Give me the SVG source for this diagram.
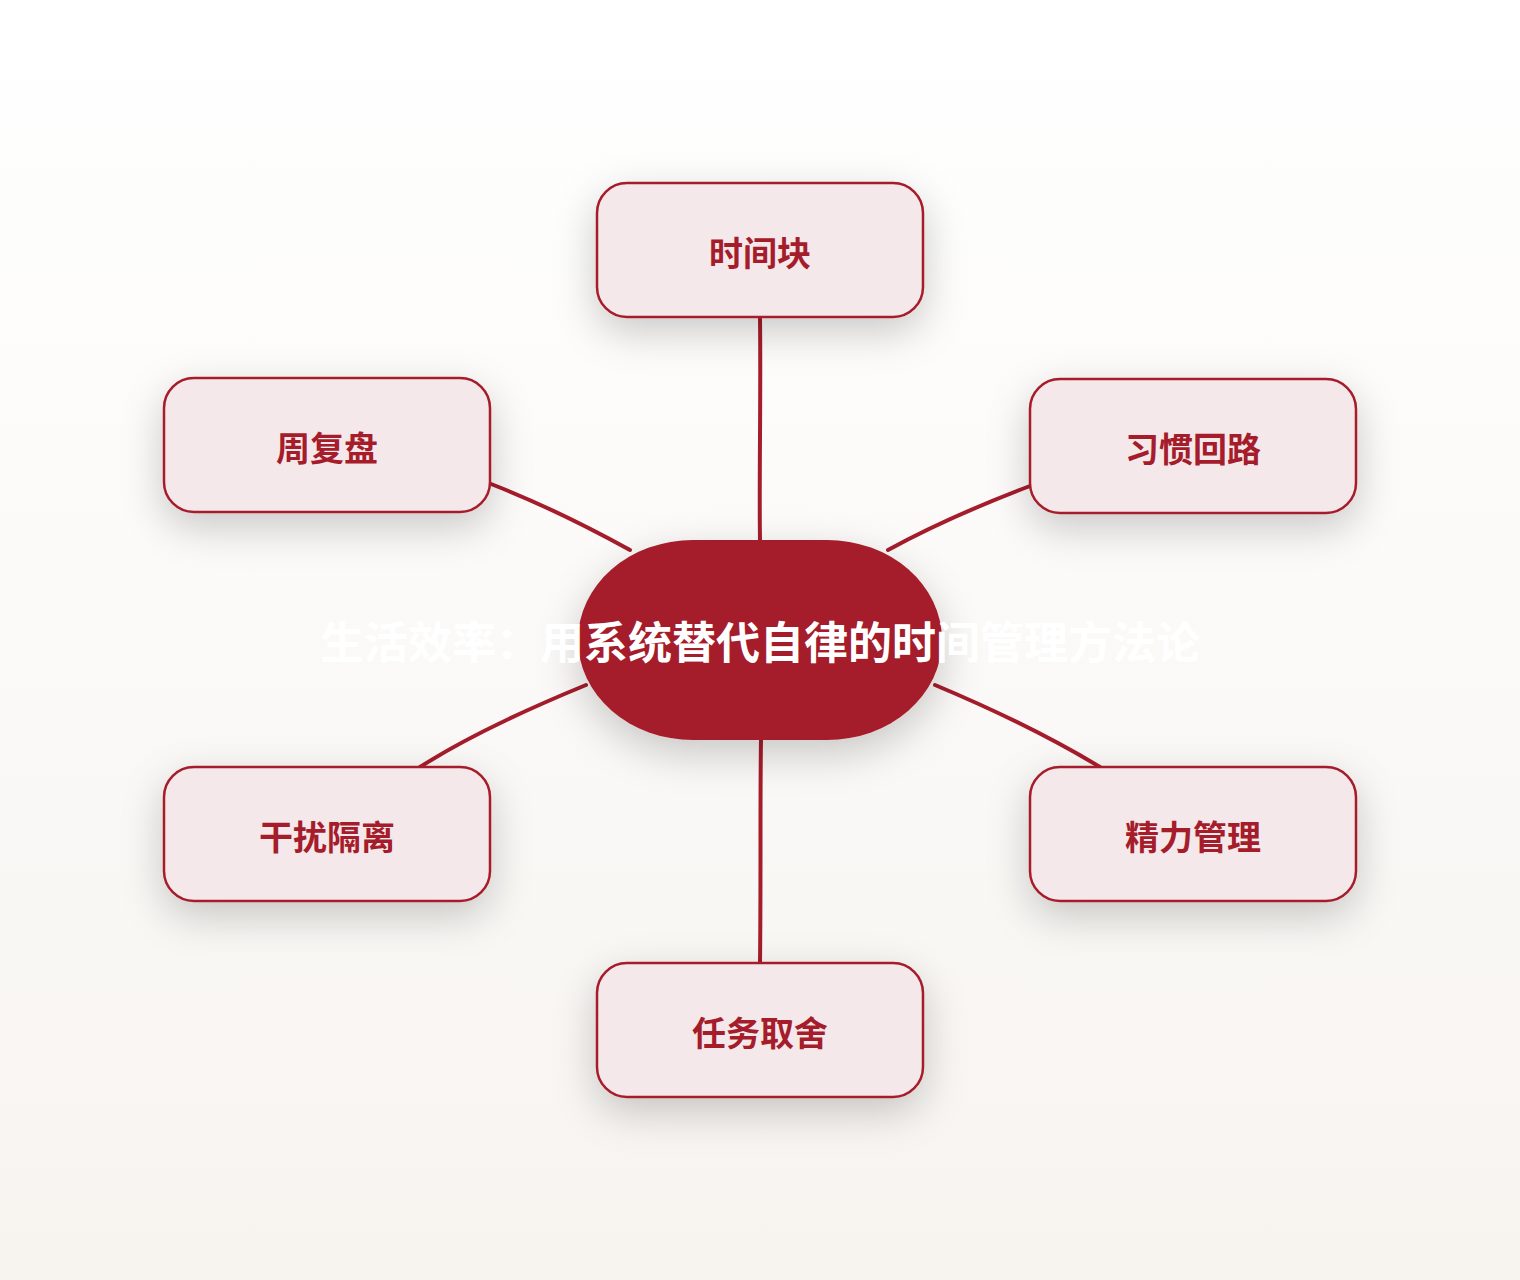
<svg xmlns="http://www.w3.org/2000/svg" width="1520" height="1280" viewBox="0 0 1520 1280">
<defs>
<linearGradient id="bg" x1="0" y1="0" x2="0" y2="1">
<stop offset="0" stop-color="#FFFFFF"/>
<stop offset="1" stop-color="#F7F4F0"/>
</linearGradient>
<filter id="sh" x="-40%" y="-50%" width="180%" height="210%">
<feDropShadow dx="0" dy="14" stdDeviation="20" flood-color="#000" flood-opacity="0.2"/>
</filter>
<style>
.node rect{fill:#F4E8EB;stroke:#A51C2B;stroke-width:2.5;filter:url(#sh)}
.node text{font-family:"Noto Sans CJK SC","Noto Sans",sans-serif;font-weight:bold;font-size:34px;fill:#A51C2B;text-anchor:middle}
.edge{fill:none;stroke:#A51C2B;stroke-width:4;stroke-linecap:round}
.center rect{fill:#A51C2B;filter:url(#sh)}
.center text{font-family:"Noto Sans CJK SC","Noto Sans",sans-serif;font-weight:bold;font-size:44px;fill:#FFFFFF;text-anchor:middle}
</style>
</defs>
<rect x="0" y="0" width="1520" height="1280" fill="url(#bg)"/>
<g id="connectors">
<path class="edge" d="M760,540 C759,480 761,400 760,318"/>
<path class="edge" d="M630,550 C590,528 540,503 491,484"/>
<path class="edge" d="M888,550 C930,527 980,505 1030,486"/>
<path class="edge" d="M586,685 C530,708 470,735 420,767"/>
<path class="edge" d="M935,685 C990,708 1050,737 1100,767"/>
<path class="edge" d="M761,740 C760,800 761,880 760,963"/>
</g>
<g id="node-top" class="node"><rect x="597" y="183" width="326" height="134" rx="30"/><text x="760" y="266">时间块</text></g>
<g id="node-lt" class="node"><rect x="164" y="378" width="326" height="134" rx="30"/><text x="327" y="461">周复盘</text></g>
<g id="node-rt" class="node"><rect x="1030" y="379" width="326" height="134" rx="30"/><text x="1193" y="462">习惯回路</text></g>
<g id="node-lb" class="node"><rect x="164" y="767" width="326" height="134" rx="30"/><text x="327" y="850">干扰隔离</text></g>
<g id="node-rb" class="node"><rect x="1030" y="767" width="326" height="134" rx="30"/><text x="1193" y="850">精力管理</text></g>
<g id="node-bottom" class="node"><rect x="597" y="963" width="326" height="134" rx="30"/><text x="760" y="1046">任务取舍</text></g>
<g id="node-center" class="center"><rect x="578" y="540" width="364" height="200" rx="115" ry="100"/><text x="760" y="659">生活效率：用系统替代自律的时间管理方法论</text></g>
</svg>
